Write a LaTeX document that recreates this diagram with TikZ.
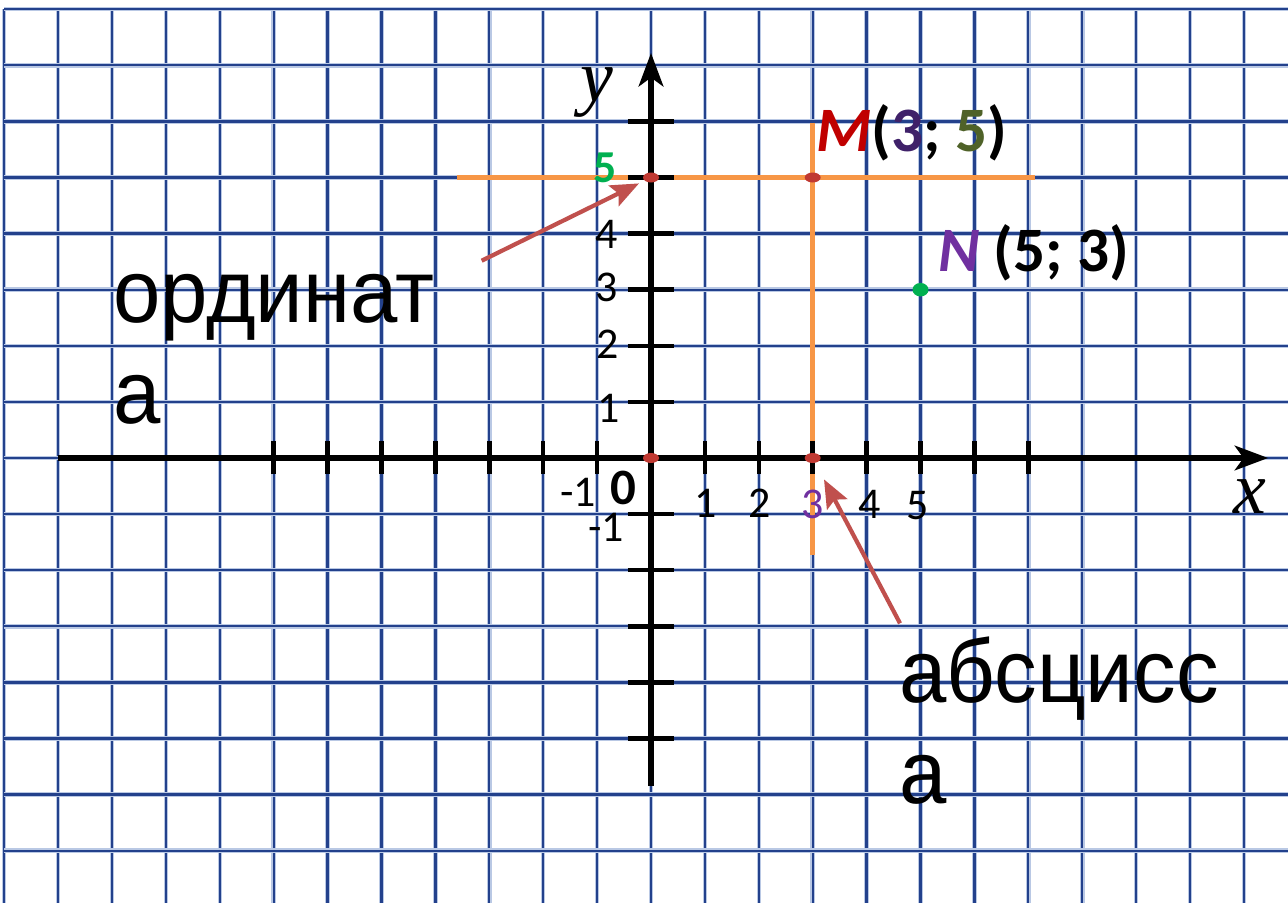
\documentclass[tikz,border=0pt]{standalone}
\usepackage{fontspec}
\setmainfont{Carlito}
\newfontfamily\rusfont{Liberation Sans}
\newfontfamily\serifit{Liberation Serif}
\usepackage{xcolor}
\usetikzlibrary{arrows.meta, positioning, shapes.geometric}

\definecolor{gridblue}{RGB}{35,65,140}
\definecolor{gridhalo}{RGB}{185,200,228}
\definecolor{guideorange}{RGB}{247,150,70}
\definecolor{dotred}{RGB}{192,57,50}
\definecolor{arrowred}{RGB}{192,80,77}
\definecolor{dotgreen}{RGB}{0,176,80}
\definecolor{mred}{RGB}{192,0,0}
\definecolor{mpurple}{RGB}{63,33,105}
\definecolor{mgreen}{RGB}{79,98,40}
\definecolor{npurple}{RGB}{112,48,160}

\newcommand{\narrow}[1]{\scalebox{0.95}[1]{#1}}

\begin{document}
\begin{tikzpicture}[x=1.078cm, y=1.122cm,
        gridline/.style={gridblue, line width=1.3pt, preaction={draw=gridhalo, line width=2.6pt}},
        guide/.style={guideorange, line width=2.6pt},
        axis/.style={line width=3pt, -{Stealth[length=19pt, width=14pt, inset=5pt]}},
        tickmark/.style={line width=2.6pt},
        dot/.style={ellipse, fill=dotred, inner sep=0pt, minimum width=0.32cm, minimum height=0.2cm},
        pointer/.style={arrowred, line width=2.4pt, -{Stealth[length=16pt, width=13pt, inset=3pt]}},
        num/.style={font=\fontsize{25}{30}\selectfont, inner sep=0pt},
        bignum/.style={font=\bfseries\fontsize{29}{34}\selectfont, inner sep=0pt},
        word/.style={font=\rusfont\fontsize{51}{57}\selectfont, inner sep=0pt, anchor=base west},
        pointname/.style={font=\bfseries\fontsize{36}{42}\selectfont, inner sep=0pt, anchor=base west},
        axisname/.style={font=\serifit\itshape\fontsize{42}{48}\selectfont, inner sep=0pt}]

    \fill[white] (-12.078,-7.932) rectangle (11.818,8.164);
    \useasboundingbox (-12.078,-7.932) rectangle (11.818,8.164);

    % squared paper
    \foreach \i in {-12,...,11}
        \draw[gridline] (\i,8) -- (\i,-7.932);
    \foreach \j in {-7,...,8}
        \draw[gridline] (-12,\j) -- (11.818,\j);

    % projections of M
    \draw[guide] (-3.6,5) -- (7.12,5);
    \draw[guide] (3,5.97) -- (3,-1.73);

    % axes
    \draw[axis] (-11,0) -- (11.45,0);
    \draw[axis] (0,-5.85) -- (0,7.22);
    \foreach \i in {-7,-6,-5,-4,-3,-2,-1,1,2,3,4,5,6,7}
        \draw[tickmark] (\i,-0.28) -- (\i,0.3);
    \foreach \j in {-5,-4,-3,-2,-1,1,2,3,4,5,6}
        \draw[tickmark] (-0.43,\j) -- (0.43,\j);

    % points
    \node[dot] (O) at (0,0) {};
    \node[dot] (X3) at (3,0) {};
    \node[dot] (Y5) at (0,5) {};
    \node[dot] (M) at (3,5) {};
    \node[ellipse, fill=dotgreen, inner sep=0pt, minimum width=0.32cm, minimum height=0.27cm] (N) at (5,3) {};

    % scale numbers
    \node[num] (xm1) at (-1.354,-0.605) {-1};
    \node[bignum] (zero) at (-0.51,-0.534) {0};
    \foreach \i/\xx/\yy in {1/1.02/-0.80, 2/2.02/-0.80, 4/4.06/-0.82, 5/4.95/-0.84}
        \node[num] (x\i) at (\xx,\yy) {\i};
    \node[num, text=npurple] (x3) at (2.99,-0.82) {3};
    \node[num] (ym1) at (-0.835,-1.228) {-1};
    \foreach \j/\xx/\yy in {1/-0.79/0.89, 2/-0.80/2.03, 3/-0.82/3.04, 4/-0.82/3.99}
        \node[num] (y\j) at (\xx,\yy) {\j};
    \node[bignum, font=\bfseries\fontsize{26}{30}\selectfont, text=dotgreen] (y5) at (-0.85,5.18) {5};

    \node[axisname] (ylab) at (-1.0,6.51) {y};
    \node[axisname] (xlab) at (11.11,-0.695) {x};

    % point names
    \node[pointname] (Mlab) at (3.06,5.455) {\textcolor{mred}{\itshape M}(\textcolor{mpurple}{3}; \textcolor{mgreen}{5})};
    \node[pointname] (Nlab) at (5.32,3.316) {\textcolor{npurple}{\itshape N} (5; 3)};

    % captions
    \node[word] (ord) at (-9.98,2.424) {\narrow{ординат}};
    \node[word, below=2.02cm of ord.base west, anchor=base west] (ord2) {\narrow{а}};
    \node[word] (abs) at (4.60,-4.35) {\narrow{абсцисс}};
    \node[word, below=2.02cm of abs.base west, anchor=base west] (abs2) {\narrow{а}};

    \coordinate (ordtail) at (-3.141,3.517);
    \coordinate (abstail) at (4.62,-2.947);
    \draw[pointer, shorten >=0.12cm] (ordtail) -- (Y5);
    \draw[pointer, shorten >=0.37cm] (abstail) -- (X3);
\end{tikzpicture}
\end{document}
